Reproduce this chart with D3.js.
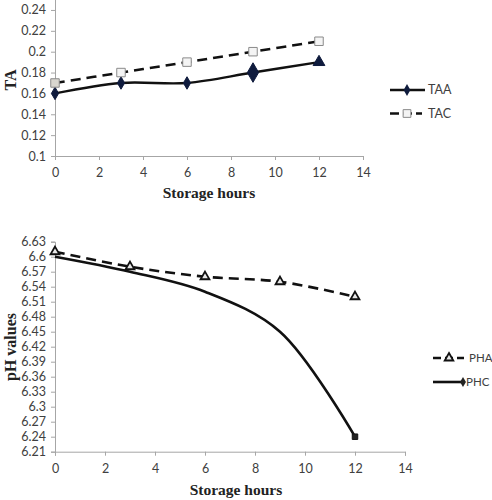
<!DOCTYPE html>
<html><head><meta charset="utf-8">
<script src="https://cdn.jsdelivr.net/npm/d3@7"></script>
<style>body{margin:0;background:#fff}svg{display:block}</style>
</head><body>
<svg id="c" width="492" height="500"></svg>
<script>
const hours = [0, 3, 6, 9, 12];
const taa = [0.16, 0.17, 0.17, 0.18, 0.19];
const tac = [0.17, 0.18, 0.19, 0.20, 0.21];
const pha = [6.61, 6.58, 6.56, 6.55, 6.52];
const phc = [6.60, 6.57, 6.53, 6.45, 6.24];
const xTicks = [0, 2, 4, 6, 8, 10, 12, 14];
const taTicks = [0.1, 0.12, 0.14, 0.16, 0.18, 0.2, 0.22, 0.24];
const phTicks = [6.21, 6.24, 6.27, 6.3, 6.33, 6.36, 6.39, 6.42, 6.45, 6.48, 6.51, 6.54, 6.57, 6.6, 6.63];

const svg = d3.select("#c");
const tickFont = "Lato, 'Open Sans', sans-serif";
const titleFont = "'Liberation Serif', 'Times New Roman', serif";
const axisCol = "#a6a6a6";
const txtCol = "#404040";

function styleAxis(g) {
  g.select(".domain").attr("stroke", axisCol).attr("stroke-width", 1);
  g.selectAll(".tick line").attr("stroke", axisCol);
  g.selectAll(".tick text").attr("fill", txtCol).style("font-family", tickFont).style("font-size", "12.5px");
}

// ---------- Top chart ----------
const x1 = d3.scaleLinear().domain([0, 14]).range([55, 363]);
const y1 = d3.scaleLinear().domain([0.1, 0.26]).range([156, -10.9]);

svg.append("g").attr("transform", "translate(0,156)")
  .call(d3.axisBottom(x1).tickValues(xTicks).tickSize(4).tickPadding(8).tickFormat(d3.format("d")))
  .call(styleAxis);
svg.append("g").attr("transform", "translate(55,0)")
  .call(d3.axisLeft(y1).tickValues(taTicks).tickSize(4).tickPadding(5).tickFormat(d => String(+d.toFixed(2))))
  .call(styleAxis);

const line1 = (ys) => d3.line().x((d, i) => x1(hours[i])).y(d => y1(d)).curve(d3.curveCatmullRom.alpha(0.5))(ys);

svg.append("path").attr("d", line1(tac)).attr("fill", "none").attr("stroke", "#111")
  .attr("stroke-width", 2.6).attr("stroke-dasharray", "10,6");
svg.append("path").attr("d", line1(taa)).attr("fill", "none").attr("stroke", "#111")
  .attr("stroke-width", 2.4);

const diamond = d3.symbol().type(d3.symbolDiamond);
const tri = d3.symbol().type(d3.symbolTriangle);
const sq = d3.symbol().type(d3.symbolSquare);

taa.forEach((v, i) => {
  const big = i === 3;
  const isTri = i === 4;
  svg.append("path")
    .attr("d", isTri ? tri.size(60)() : diamond.size(big ? 110 : 45)())
    .attr("transform", `translate(${x1(hours[i])},${y1(v)})`)
    .attr("fill", "#0f1b3d").attr("stroke", "#0f1b3d");
});
tac.forEach((v, i) => {
  svg.append("path").attr("d", sq.size(72)())
    .attr("transform", `translate(${x1(hours[i])},${y1(v)})`)
    .attr("fill", i === 0 ? "#d8d6cf" : "#f4f4f4").attr("stroke", "#8a8a8a").attr("stroke-width", 1);
});

// legend top
const lg1 = svg.append("g");
lg1.append("line").attr("x1", 390).attr("x2", 425).attr("y1", 90).attr("y2", 90).attr("stroke", "#111").attr("stroke-width", 2.6);
lg1.append("path").attr("d", diamond.size(40)()).attr("transform", "translate(407,90)").attr("fill", "#0f1b3d");
lg1.append("text").attr("x", 428).attr("y", 90).attr("dy", "0.35em").text("TAA")
  .style("font-family", tickFont).style("font-size", "12.5px").attr("fill", txtCol);
lg1.append("line").attr("x1", 390).attr("x2", 422).attr("y1", 113.5).attr("y2", 113.5).attr("stroke", "#111").attr("stroke-width", 2.6).attr("stroke-dasharray", "9,4");
lg1.append("path").attr("d", sq.size(60)()).attr("transform", "translate(407,113.5)").attr("fill", "#f4f4f4").attr("stroke", "#8a8a8a");
lg1.append("text").attr("x", 428).attr("y", 113.5).attr("dy", "0.35em").text("TAC")
  .style("font-family", tickFont).style("font-size", "12.5px").attr("fill", txtCol);

svg.append("text").attr("x", 209).attr("y", 193).attr("dy", "0.35em").attr("text-anchor", "middle")
  .text("Storage hours").style("font-family", titleFont).style("font-weight", "bold").style("font-size", "15.5px").attr("fill", "#222");
svg.append("text").attr("transform", "translate(10,80) rotate(-90)").attr("dy", "0.35em").attr("text-anchor", "middle")
  .text("TA").style("font-family", titleFont).style("font-weight", "bold").style("font-size", "16px").attr("fill", "#222");

// ---------- Bottom chart ----------
const x2 = d3.scaleLinear().domain([0, 14]).range([55, 405]);
const y2 = d3.scaleLinear().domain([6.21, 6.63]).range([451.7, 241.7]);

svg.append("g").attr("transform", "translate(0,451.7)")
  .call(d3.axisBottom(x2).tickValues(xTicks).tickSize(4).tickPadding(8).tickFormat(d3.format("d")))
  .call(styleAxis);
svg.append("g").attr("transform", "translate(55,0)")
  .call(d3.axisLeft(y2).tickValues(phTicks).tickSize(4).tickPadding(5).tickFormat(d => String(+d.toFixed(2))))
  .call(styleAxis);

const line2 = (ys) => d3.line().x((d, i) => x2(hours[i])).y(d => y2(d)).curve(d3.curveCatmullRom.alpha(0.5))(ys);

svg.append("path").attr("d", line2(phc)).attr("fill", "none").attr("stroke", "#111").attr("stroke-width", 2.6);
svg.append("path").attr("d", line2(pha)).attr("fill", "none").attr("stroke", "#111")
  .attr("stroke-width", 2.6).attr("stroke-dasharray", "10,6");

pha.forEach((v, i) => {
  svg.append("path").attr("d", tri.size(34)())
    .attr("transform", `translate(${x2(hours[i])},${y2(v)})`)
    .attr("fill", "#e8e8e8").attr("stroke", "#111").attr("stroke-width", 1.8);
});
svg.append("path").attr("d", sq.size(30)())
  .attr("transform", `translate(${x2(hours[4])},${y2(phc[4])})`)
  .attr("fill", "#222").attr("stroke", "#111");

// legend bottom
const lg2 = svg.append("g");
lg2.append("line").attr("x1", 433).attr("x2", 464).attr("y1", 358).attr("y2", 358).attr("stroke", "#111").attr("stroke-width", 2.6).attr("stroke-dasharray", "8,4");
lg2.append("path").attr("d", tri.size(32)()).attr("transform", "translate(449,358)").attr("fill", "#e8e8e8").attr("stroke", "#111").attr("stroke-width", 1.8);
lg2.append("text").attr("x", 469).attr("y", 358).attr("dy", "0.35em").text("PHA")
  .style("font-family", tickFont).style("font-size", "11.5px").attr("fill", txtCol);
lg2.append("line").attr("x1", 433).attr("x2", 462).attr("y1", 382).attr("y2", 382).attr("stroke", "#111").attr("stroke-width", 2.6);
lg2.append("path").attr("d", diamond.size(30)()).attr("transform", "translate(463,382)").attr("fill", "#222");
lg2.append("text").attr("x", 466).attr("y", 382).attr("dy", "0.35em").text("PHC")
  .style("font-family", tickFont).style("font-size", "11.5px").attr("fill", txtCol);

svg.append("text").attr("x", 236).attr("y", 490).attr("dy", "0.35em").attr("text-anchor", "middle")
  .text("Storage hours").style("font-family", titleFont).style("font-weight", "bold").style("font-size", "15.5px").attr("fill", "#222");
svg.append("text").attr("transform", "translate(10,347) rotate(-90)").attr("dy", "0.35em").attr("text-anchor", "middle")
  .text("pH values").style("font-family", titleFont).style("font-weight", "bold").style("font-size", "16px").attr("fill", "#222");
</script>
</body></html>
